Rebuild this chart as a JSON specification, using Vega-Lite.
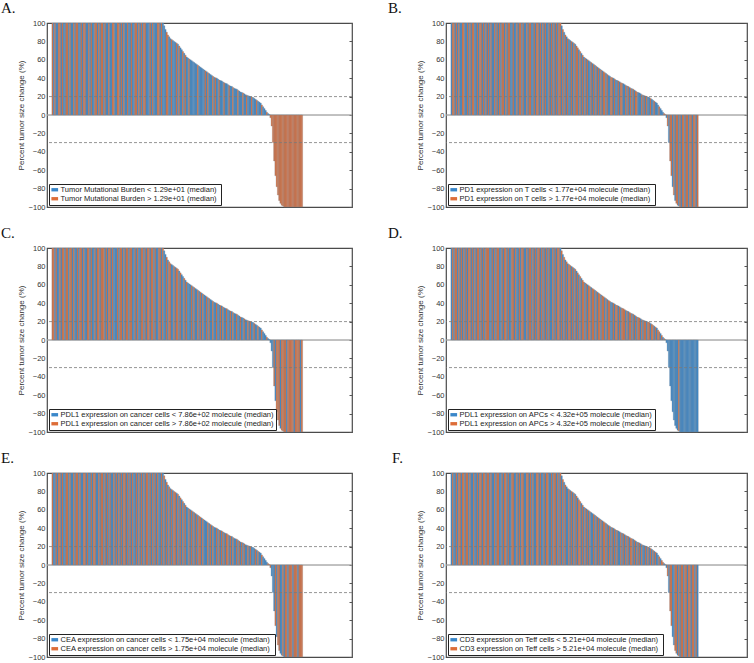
{
"$schema": "https://vega.github.io/schema/vega-lite/v6.json",
"padding": {"left": 0, "top": 0, "right": 2, "bottom": 0},
"config": {
 "font": "Liberation Sans",
 "view": {"stroke": "#4a4a4a", "strokeWidth": 1.2},
 "title": {"font": "Liberation Serif", "fontSize": 15, "fontWeight": "normal", "anchor": "start", "frame": "group", "offset": 3, "color": "#111"},
 "legend": {"orient": "bottom-left", "offset": 2, "padding": 2, "strokeColor": "#222", "fillColor": "white", "title": null, "symbolType": "M-1,-0.5H1V0.5H-1Z", "symbolSize": 45, "symbolStrokeWidth": 0, "labelFontSize": 7.5, "labelFont": "Liberation Sans", "labelColor": "#222", "labelLimit": 400, "rowPadding": 0, "labelOffset": 2, "symbolOpacity": 1}
},
"datasets": {
 "bars": [
{"i":1,"v":100,"A":1,"B":0,"C":1,"D":0,"E":1,"F":0},
{"i":2,"v":100,"A":0,"B":1,"C":1,"D":1,"E":0,"F":1},
{"i":3,"v":100,"A":1,"B":1,"C":0,"D":0,"E":0,"F":0},
{"i":4,"v":100,"A":0,"B":0,"C":1,"D":1,"E":1,"F":0},
{"i":5,"v":100,"A":0,"B":1,"C":0,"D":1,"E":0,"F":1},
{"i":6,"v":100,"A":1,"B":0,"C":0,"D":0,"E":1,"F":0},
{"i":7,"v":100,"A":1,"B":1,"C":1,"D":1,"E":1,"F":1},
{"i":8,"v":100,"A":0,"B":0,"C":0,"D":0,"E":0,"F":1},
{"i":9,"v":100,"A":1,"B":0,"C":1,"D":1,"E":1,"F":0},
{"i":10,"v":100,"A":0,"B":1,"C":1,"D":0,"E":0,"F":1},
{"i":11,"v":100,"A":0,"B":1,"C":0,"D":1,"E":0,"F":1},
{"i":12,"v":100,"A":1,"B":0,"C":1,"D":0,"E":1,"F":0},
{"i":13,"v":100,"A":1,"B":0,"C":1,"D":1,"E":1,"F":1},
{"i":14,"v":100,"A":0,"B":1,"C":0,"D":0,"E":0,"F":1},
{"i":15,"v":100,"A":1,"B":0,"C":1,"D":1,"E":1,"F":0},
{"i":16,"v":100,"A":0,"B":1,"C":1,"D":1,"E":0,"F":1},
{"i":17,"v":100,"A":0,"B":0,"C":0,"D":0,"E":0,"F":0},
{"i":18,"v":100,"A":1,"B":1,"C":1,"D":1,"E":1,"F":0},
{"i":19,"v":100,"A":0,"B":1,"C":0,"D":0,"E":0,"F":1},
{"i":20,"v":100,"A":1,"B":0,"C":0,"D":1,"E":1,"F":0},
{"i":21,"v":100,"A":1,"B":0,"C":1,"D":0,"E":1,"F":0},
{"i":22,"v":100,"A":0,"B":1,"C":0,"D":1,"E":0,"F":1},
{"i":23,"v":100,"A":0,"B":0,"C":1,"D":1,"E":1,"F":0},
{"i":24,"v":100,"A":1,"B":1,"C":1,"D":0,"E":0,"F":1},
{"i":25,"v":100,"A":0,"B":1,"C":0,"D":1,"E":0,"F":1},
{"i":26,"v":100,"A":1,"B":0,"C":1,"D":0,"E":1,"F":0},
{"i":27,"v":100,"A":1,"B":1,"C":0,"D":1,"E":1,"F":1},
{"i":28,"v":100,"A":0,"B":0,"C":0,"D":0,"E":0,"F":1},
{"i":29,"v":100,"A":0,"B":1,"C":1,"D":1,"E":1,"F":0},
{"i":30,"v":100,"A":1,"B":0,"C":1,"D":1,"E":0,"F":1},
{"i":31,"v":100,"A":0,"B":1,"C":0,"D":1,"E":0,"F":1},
{"i":32,"v":100,"A":1,"B":0,"C":1,"D":0,"E":1,"F":0},
{"i":33,"v":100,"A":0,"B":1,"C":0,"D":0,"E":0,"F":1},
{"i":34,"v":100,"A":0,"B":0,"C":0,"D":1,"E":1,"F":0},
{"i":35,"v":100,"A":1,"B":0,"C":1,"D":0,"E":1,"F":0},
{"i":36,"v":100,"A":1,"B":1,"C":0,"D":1,"E":0,"F":1},
{"i":37,"v":100,"A":0,"B":0,"C":1,"D":0,"E":0,"F":0},
{"i":38,"v":100,"A":1,"B":1,"C":1,"D":1,"E":1,"F":1},
{"i":39,"v":100,"A":0,"B":0,"C":0,"D":1,"E":0,"F":1},
{"i":40,"v":100,"A":1,"B":1,"C":1,"D":0,"E":1,"F":0},
{"i":41,"v":100,"A":1,"B":0,"C":1,"D":0,"E":1,"F":0},
{"i":42,"v":100,"A":0,"B":1,"C":1,"D":1,"E":0,"F":1},
{"i":43,"v":100,"A":1,"B":1,"C":0,"D":0,"E":1,"F":0},
{"i":44,"v":100,"A":0,"B":0,"C":1,"D":1,"E":0,"F":1},
{"i":45,"v":100,"A":0,"B":1,"C":0,"D":1,"E":1,"F":1},
{"i":46,"v":100,"A":1,"B":0,"C":1,"D":0,"E":0,"F":0},
{"i":47,"v":100,"A":0,"B":1,"C":1,"D":1,"E":1,"F":1},
{"i":48,"v":100,"A":0,"B":1,"C":0,"D":0,"E":0,"F":0},
{"i":49,"v":100,"A":1,"B":0,"C":1,"D":0,"E":0,"F":0},
{"i":50,"v":100,"A":1,"B":0,"C":0,"D":1,"E":1,"F":1},
{"i":51,"v":100,"A":0,"B":1,"C":0,"D":1,"E":0,"F":1},
{"i":52,"v":100,"A":0,"B":0,"C":0,"D":0,"E":1,"F":0},
{"i":53,"v":100,"A":1,"B":0,"C":1,"D":1,"E":0,"F":0},
{"i":54,"v":100,"A":1,"B":1,"C":0,"D":0,"E":1,"F":1},
{"i":55,"v":100,"A":0,"B":0,"C":1,"D":0,"E":0,"F":0},
{"i":56,"v":100,"A":1,"B":1,"C":1,"D":1,"E":1,"F":1},
{"i":57,"v":100,"A":0,"B":1,"C":0,"D":0,"E":0,"F":0},
{"i":58,"v":100,"A":1,"B":0,"C":1,"D":1,"E":1,"F":1},
{"i":59,"v":100,"A":0,"B":1,"C":0,"D":1,"E":1,"F":1},
{"i":60,"v":100,"A":0,"B":0,"C":1,"D":0,"E":0,"F":0},
{"i":61,"v":100,"A":1,"B":0,"C":1,"D":0,"E":1,"F":0},
{"i":62,"v":100,"A":0,"B":1,"C":0,"D":1,"E":0,"F":1},
{"i":63,"v":100,"A":0,"B":0,"C":1,"D":0,"E":1,"F":1},
{"i":64,"v":100,"A":1,"B":1,"C":1,"D":1,"E":0,"F":0},
{"i":65,"v":100,"A":0,"B":1,"C":0,"D":1,"E":1,"F":1},
{"i":66,"v":100,"A":0,"B":0,"C":0,"D":0,"E":0,"F":0},
{"i":67,"v":100,"A":1,"B":0,"C":1,"D":1,"E":0,"F":1},
{"i":68,"v":100,"A":1,"B":1,"C":0,"D":0,"E":1,"F":0},
{"i":69,"v":100,"A":0,"B":0,"C":1,"D":1,"E":0,"F":0},
{"i":70,"v":100,"A":1,"B":1,"C":0,"D":0,"E":1,"F":1},
{"i":71,"v":100,"A":0,"B":1,"C":0,"D":1,"E":0,"F":1},
{"i":72,"v":100,"A":1,"B":0,"C":1,"D":1,"E":1,"F":0},
{"i":73,"v":100,"A":0,"B":1,"C":1,"D":0,"E":0,"F":1},
{"i":74,"v":100,"A":1,"B":0,"C":0,"D":1,"E":1,"F":0},
{"i":75,"v":100,"A":1,"B":1,"C":1,"D":0,"E":0,"F":0},
{"i":76,"v":100,"A":0,"B":0,"C":0,"D":1,"E":1,"F":1},
{"i":77,"v":100,"A":0,"B":1,"C":1,"D":0,"E":1,"F":0},
{"i":78,"v":100,"A":0,"B":0,"C":1,"D":1,"E":0,"F":1},
{"i":79,"v":100,"A":1,"B":0,"C":0,"D":0,"E":1,"F":1},
{"i":80,"v":100,"A":0,"B":1,"C":1,"D":1,"E":0,"F":0},
{"i":81,"v":100,"A":1,"B":0,"C":1,"D":0,"E":1,"F":0},
{"i":82,"v":100,"A":0,"B":1,"C":0,"D":0,"E":0,"F":1},
{"i":83,"v":100,"A":0,"B":0,"C":1,"D":1,"E":1,"F":0},
{"i":84,"v":100,"A":0,"B":1,"C":0,"D":0,"E":0,"F":1},
{"i":85,"v":100,"A":1,"B":0,"C":0,"D":1,"E":1,"F":1},
{"i":86,"v":100,"A":1,"B":1,"C":1,"D":0,"E":0,"F":0},
{"i":87,"v":100,"A":0,"B":0,"C":1,"D":1,"E":0,"F":1},
{"i":88,"v":100,"A":1,"B":1,"C":0,"D":1,"E":1,"F":0},
{"i":89,"v":100,"A":0,"B":1,"C":1,"D":0,"E":0,"F":1},
{"i":90,"v":97,"A":0,"B":0,"C":0,"D":1,"E":1,"F":0},
{"i":91,"v":93,"A":0,"B":1,"C":0,"D":0,"E":0,"F":1},
{"i":92,"v":90,"A":1,"B":0,"C":1,"D":1,"E":1,"F":0},
{"i":93,"v":87,"A":1,"B":1,"C":0,"D":0,"E":0,"F":1},
{"i":94,"v":85,"A":0,"B":0,"C":1,"D":1,"E":1,"F":0},
{"i":95,"v":83,"A":0,"B":1,"C":1,"D":0,"E":0,"F":0},
{"i":96,"v":82,"A":1,"B":0,"C":0,"D":1,"E":1,"F":1},
{"i":97,"v":81,"A":0,"B":0,"C":0,"D":1,"E":0,"F":0},
{"i":98,"v":80,"A":0,"B":1,"C":1,"D":0,"E":1,"F":1},
{"i":99,"v":79,"A":0,"B":0,"C":0,"D":1,"E":1,"F":0},
{"i":100,"v":78,"A":1,"B":1,"C":1,"D":0,"E":0,"F":1},
{"i":101,"v":77,"A":0,"B":0,"C":1,"D":1,"E":1,"F":0},
{"i":102,"v":75,"A":1,"B":1,"C":0,"D":0,"E":0,"F":1},
{"i":103,"v":73,"A":0,"B":1,"C":1,"D":1,"E":1,"F":0},
{"i":104,"v":71,"A":0,"B":0,"C":0,"D":0,"E":0,"F":1},
{"i":105,"v":69,"A":1,"B":1,"C":0,"D":1,"E":1,"F":1},
{"i":106,"v":67,"A":0,"B":0,"C":1,"D":0,"E":0,"F":0},
{"i":107,"v":65,"A":1,"B":1,"C":0,"D":1,"E":1,"F":1},
{"i":108,"v":63,"A":0,"B":0,"C":1,"D":1,"E":0,"F":0},
{"i":109,"v":62,"A":0,"B":1,"C":0,"D":0,"E":0,"F":1},
{"i":110,"v":61,"A":1,"B":0,"C":0,"D":1,"E":1,"F":0},
{"i":111,"v":60,"A":0,"B":1,"C":0,"D":0,"E":0,"F":1},
{"i":112,"v":59,"A":0,"B":0,"C":1,"D":1,"E":1,"F":0},
{"i":113,"v":58,"A":0,"B":0,"C":0,"D":1,"E":0,"F":1},
{"i":114,"v":57,"A":0,"B":1,"C":1,"D":0,"E":1,"F":0},
{"i":115,"v":56,"A":0,"B":0,"C":0,"D":1,"E":0,"F":0},
{"i":116,"v":55,"A":0,"B":1,"C":0,"D":1,"E":1,"F":1},
{"i":117,"v":54,"A":1,"B":0,"C":1,"D":0,"E":0,"F":0},
{"i":118,"v":53,"A":0,"B":1,"C":0,"D":1,"E":1,"F":1},
{"i":119,"v":52,"A":0,"B":0,"C":1,"D":0,"E":1,"F":0},
{"i":120,"v":51,"A":0,"B":1,"C":0,"D":1,"E":0,"F":1},
{"i":121,"v":50,"A":0,"B":0,"C":1,"D":1,"E":1,"F":0},
{"i":122,"v":49,"A":0,"B":1,"C":0,"D":0,"E":0,"F":1},
{"i":123,"v":48,"A":1,"B":0,"C":0,"D":1,"E":0,"F":0},
{"i":124,"v":47,"A":0,"B":1,"C":1,"D":1,"E":0,"F":1},
{"i":125,"v":46,"A":1,"B":1,"C":0,"D":0,"E":1,"F":1},
{"i":126,"v":45,"A":0,"B":0,"C":1,"D":1,"E":0,"F":0},
{"i":127,"v":44,"A":0,"B":1,"C":0,"D":0,"E":1,"F":1},
{"i":128,"v":43,"A":0,"B":0,"C":0,"D":1,"E":0,"F":0},
{"i":129,"v":42,"A":1,"B":0,"C":1,"D":1,"E":1,"F":1},
{"i":130,"v":41,"A":0,"B":1,"C":0,"D":0,"E":0,"F":0},
{"i":131,"v":40.5,"A":1,"B":1,"C":0,"D":0,"E":0,"F":1},
{"i":132,"v":40,"A":0,"B":0,"C":1,"D":1,"E":1,"F":0},
{"i":133,"v":39,"A":0,"B":1,"C":0,"D":0,"E":0,"F":1},
{"i":134,"v":38,"A":1,"B":0,"C":0,"D":1,"E":1,"F":0},
{"i":135,"v":37.5,"A":0,"B":0,"C":1,"D":1,"E":0,"F":1},
{"i":136,"v":37,"A":0,"B":1,"C":0,"D":0,"E":1,"F":0},
{"i":137,"v":36,"A":0,"B":0,"C":1,"D":1,"E":0,"F":0},
{"i":138,"v":35,"A":1,"B":1,"C":0,"D":0,"E":1,"F":1},
{"i":139,"v":34.5,"A":0,"B":1,"C":0,"D":1,"E":0,"F":0},
{"i":140,"v":34,"A":0,"B":0,"C":1,"D":1,"E":1,"F":1},
{"i":141,"v":33,"A":0,"B":0,"C":0,"D":1,"E":1,"F":0},
{"i":142,"v":32,"A":1,"B":1,"C":0,"D":0,"E":0,"F":1},
{"i":143,"v":31.5,"A":0,"B":0,"C":1,"D":1,"E":1,"F":0},
{"i":144,"v":31,"A":0,"B":1,"C":0,"D":0,"E":0,"F":1},
{"i":145,"v":30,"A":1,"B":0,"C":1,"D":1,"E":1,"F":0},
{"i":146,"v":29,"A":0,"B":1,"C":0,"D":1,"E":0,"F":1},
{"i":147,"v":28.5,"A":0,"B":0,"C":0,"D":0,"E":0,"F":1},
{"i":148,"v":28,"A":0,"B":1,"C":1,"D":1,"E":1,"F":0},
{"i":149,"v":27,"A":1,"B":0,"C":0,"D":0,"E":0,"F":1},
{"i":150,"v":26,"A":0,"B":1,"C":0,"D":1,"E":1,"F":0},
{"i":151,"v":25,"A":0,"B":1,"C":1,"D":0,"E":0,"F":1},
{"i":152,"v":24.5,"A":0,"B":0,"C":0,"D":1,"E":1,"F":0},
{"i":153,"v":24,"A":1,"B":0,"C":0,"D":1,"E":0,"F":1},
{"i":154,"v":23,"A":0,"B":0,"C":1,"D":0,"E":1,"F":0},
{"i":155,"v":22,"A":0,"B":1,"C":0,"D":1,"E":0,"F":1},
{"i":156,"v":21.5,"A":1,"B":0,"C":0,"D":0,"E":0,"F":0},
{"i":157,"v":21,"A":0,"B":1,"C":1,"D":1,"E":1,"F":0},
{"i":158,"v":20.5,"A":0,"B":0,"C":0,"D":1,"E":0,"F":1},
{"i":159,"v":20,"A":0,"B":1,"C":1,"D":0,"E":1,"F":0},
{"i":160,"v":19.5,"A":1,"B":0,"C":0,"D":1,"E":0,"F":1},
{"i":161,"v":19,"A":0,"B":0,"C":0,"D":1,"E":0,"F":0},
{"i":162,"v":18,"A":0,"B":1,"C":1,"D":0,"E":0,"F":1},
{"i":163,"v":17,"A":0,"B":0,"C":0,"D":1,"E":1,"F":0},
{"i":164,"v":16,"A":1,"B":0,"C":0,"D":1,"E":0,"F":1},
{"i":165,"v":15,"A":0,"B":1,"C":1,"D":0,"E":1,"F":0},
{"i":166,"v":14,"A":0,"B":0,"C":0,"D":1,"E":0,"F":1},
{"i":167,"v":13,"A":0,"B":0,"C":0,"D":0,"E":0,"F":0},
{"i":168,"v":11,"A":1,"B":0,"C":1,"D":1,"E":1,"F":0},
{"i":169,"v":9,"A":0,"B":1,"C":0,"D":1,"E":0,"F":1},
{"i":170,"v":7,"A":0,"B":0,"C":0,"D":0,"E":0,"F":0},
{"i":171,"v":5,"A":0,"B":0,"C":0,"D":1,"E":0,"F":1},
{"i":172,"v":3,"A":1,"B":0,"C":1,"D":0,"E":0,"F":1},
{"i":173,"v":1.5,"A":0,"B":1,"C":0,"D":1,"E":1,"F":0},
{"i":174,"v":0.5,"A":0,"B":1,"C":0,"D":0,"E":1,"F":1},
{"i":175,"v":-3,"A":1,"B":0,"C":0,"D":0,"E":1,"F":0},
{"i":176,"v":-12,"A":1,"B":1,"C":0,"D":0,"E":0,"F":1},
{"i":177,"v":-30,"A":1,"B":0,"C":0,"D":0,"E":0,"F":0},
{"i":178,"v":-50,"A":1,"B":1,"C":1,"D":0,"E":0,"F":1},
{"i":179,"v":-66,"A":1,"B":1,"C":0,"D":0,"E":1,"F":1},
{"i":180,"v":-78,"A":1,"B":0,"C":1,"D":0,"E":0,"F":0},
{"i":181,"v":-87,"A":1,"B":1,"C":1,"D":0,"E":1,"F":0},
{"i":182,"v":-93,"A":1,"B":0,"C":1,"D":0,"E":1,"F":1},
{"i":183,"v":-96,"A":1,"B":1,"C":0,"D":0,"E":0,"F":1},
{"i":184,"v":-98,"A":1,"B":1,"C":1,"D":0,"E":0,"F":0},
{"i":185,"v":-99,"A":1,"B":0,"C":1,"D":1,"E":1,"F":1},
{"i":186,"v":-100,"A":1,"B":1,"C":1,"D":0,"E":0,"F":0},
{"i":187,"v":-100,"A":1,"B":0,"C":1,"D":0,"E":1,"F":1},
{"i":188,"v":-100,"A":1,"B":1,"C":0,"D":0,"E":1,"F":1},
{"i":189,"v":-100,"A":1,"B":1,"C":1,"D":0,"E":0,"F":0},
{"i":190,"v":-100,"A":1,"B":0,"C":1,"D":0,"E":1,"F":1},
{"i":191,"v":-100,"A":1,"B":1,"C":1,"D":0,"E":1,"F":1},
{"i":192,"v":-100,"A":1,"B":1,"C":1,"D":0,"E":1,"F":0},
{"i":193,"v":-100,"A":1,"B":0,"C":1,"D":0,"E":0,"F":1},
{"i":194,"v":-100,"A":1,"B":1,"C":0,"D":0,"E":1,"F":1},
{"i":195,"v":-100,"A":1,"B":1,"C":1,"D":0,"E":1,"F":0},
{"i":196,"v":-100,"A":1,"B":0,"C":1,"D":0,"E":1,"F":1},
{"i":197,"v":-100,"A":1,"B":1,"C":1,"D":0,"E":0,"F":1},
{"i":198,"v":-100,"A":1,"B":1,"C":1,"D":0,"E":1,"F":0},
{"i":199,"v":-100,"A":1,"B":0,"C":0,"D":0,"E":1,"F":1},
{"i":200,"v":-100,"A":1,"B":1,"C":1,"D":0,"E":1,"F":0}
 ],
 "refs": [{"r": 20}, {"r": -30}]
},
"columns": 2,
"spacing": {"row": 13, "column": 33},
"resolve": {"scale": {"color": "independent"}},
"concat": [
 {"width": 305, "height": 184, "title": {"text": "A.", "dx": -46},
  "layer": [
   {"data": {"name": "refs"}, "mark": {"type": "rule", "color": "#a0a0a0", "strokeWidth": 0.8}, "encoding": {"y": {"datum": 0, "type": "quantitative", "axis": null}}},
   {"data": {"name": "bars"}, "mark": {"type": "bar", "orient": "vertical", "width": 1.5, "stroke": "#7f8b97", "strokeWidth": 0.4, "strokeOpacity": 0.8},
    "encoding": {
     "x": {"field": "i", "type": "quantitative", "scale": {"domain": [0.5, 236]}, "axis": null},
     "y": {"field": "v", "type": "quantitative", "scale": {"domain": [-100, 100], "nice": false}, "axis": {"title": "Percent tumor size change (%)", "values": [-100,-80,-60,-40,-20,0,20,40,60,80,100], "ticks": false, "domain": false, "grid": false, "labelFontSize": 7.5, "labelColor": "#333", "labelPadding": 2, "titleFontSize": 8, "titleFontWeight": "normal", "titleColor": "#333", "titlePadding": 3}},
     "color": {"field": "A", "type": "nominal", "scale": {"domain": [0, 1], "range": ["#3a87c9", "#dd6d38"]}, "legend": {"labelExpr": "datum.value == 0 ? 'Tumor Mutational Burden < 1.29e+01  (median)' : 'Tumor Mutational Burden > 1.29e+01  (median)'"}}
    }},
   {"data": {"name": "refs"}, "mark": {"type": "rule", "strokeDash": [3, 2], "color": "#7a7a7a", "strokeWidth": 0.8},
    "encoding": {"y": {"field": "r", "type": "quantitative", "axis": {"orient": "right", "title": null, "labels": false, "values": [-100,-80,-60,-40,-20,0,20,40,60,80,100], "tickSize": -3, "tickColor": "#555", "domain": false, "grid": false}}}}
  ],
  "resolve": {"axis": {"y": "independent"}}
 },
 {"width": 301, "height": 184, "title": {"text": "B.", "dx": -58},
  "layer": [
   {"data": {"name": "refs"}, "mark": {"type": "rule", "color": "#a0a0a0", "strokeWidth": 0.8}, "encoding": {"y": {"datum": 0, "type": "quantitative", "axis": null}}},
   {"data": {"name": "bars"}, "mark": {"type": "bar", "orient": "vertical", "width": 1.5, "stroke": "#7f8b97", "strokeWidth": 0.4, "strokeOpacity": 0.8},
    "encoding": {
     "x": {"field": "i", "type": "quantitative", "scale": {"domain": [0.5, 236]}, "axis": null},
     "y": {"field": "v", "type": "quantitative", "scale": {"domain": [-100, 100], "nice": false}, "axis": {"title": "Percent tumor size change (%)", "values": [-100,-80,-60,-40,-20,0,20,40,60,80,100], "ticks": false, "domain": false, "grid": false, "labelFontSize": 7.5, "labelColor": "#333", "labelPadding": 2, "titleFontSize": 8, "titleFontWeight": "normal", "titleColor": "#333", "titlePadding": 3}},
     "color": {"field": "B", "type": "nominal", "scale": {"domain": [0, 1], "range": ["#3a87c9", "#dd6d38"]}, "legend": {"labelExpr": "datum.value == 0 ? 'PD1 expression on T cells  < 1.77e+04 molecule (median)' : 'PD1 expression on T cells  > 1.77e+04 molecule (median)'"}}
    }},
   {"data": {"name": "refs"}, "mark": {"type": "rule", "strokeDash": [3, 2], "color": "#7a7a7a", "strokeWidth": 0.8},
    "encoding": {"y": {"field": "r", "type": "quantitative", "axis": {"orient": "right", "title": null, "labels": false, "values": [-100,-80,-60,-40,-20,0,20,40,60,80,100], "tickSize": -3, "tickColor": "#555", "domain": false, "grid": false}}}}
  ],
  "resolve": {"axis": {"y": "independent"}}
 },
 {"width": 305, "height": 184, "title": {"text": "C.", "dx": -46},
  "layer": [
   {"data": {"name": "refs"}, "mark": {"type": "rule", "color": "#a0a0a0", "strokeWidth": 0.8}, "encoding": {"y": {"datum": 0, "type": "quantitative", "axis": null}}},
   {"data": {"name": "bars"}, "mark": {"type": "bar", "orient": "vertical", "width": 1.5, "stroke": "#7f8b97", "strokeWidth": 0.4, "strokeOpacity": 0.8},
    "encoding": {
     "x": {"field": "i", "type": "quantitative", "scale": {"domain": [0.5, 236]}, "axis": null},
     "y": {"field": "v", "type": "quantitative", "scale": {"domain": [-100, 100], "nice": false}, "axis": {"title": "Percent tumor size change (%)", "values": [-100,-80,-60,-40,-20,0,20,40,60,80,100], "ticks": false, "domain": false, "grid": false, "labelFontSize": 7.5, "labelColor": "#333", "labelPadding": 2, "titleFontSize": 8, "titleFontWeight": "normal", "titleColor": "#333", "titlePadding": 3}},
     "color": {"field": "C", "type": "nominal", "scale": {"domain": [0, 1], "range": ["#3a87c9", "#dd6d38"]}, "legend": {"labelExpr": "datum.value == 0 ? 'PDL1 expression on cancer cells < 7.86e+02 molecule (median)' : 'PDL1 expression on cancer cells > 7.86e+02 molecule (median)'"}}
    }},
   {"data": {"name": "refs"}, "mark": {"type": "rule", "strokeDash": [3, 2], "color": "#7a7a7a", "strokeWidth": 0.8},
    "encoding": {"y": {"field": "r", "type": "quantitative", "axis": {"orient": "right", "title": null, "labels": false, "values": [-100,-80,-60,-40,-20,0,20,40,60,80,100], "tickSize": -3, "tickColor": "#555", "domain": false, "grid": false}}}}
  ],
  "resolve": {"axis": {"y": "independent"}}
 },
 {"width": 301, "height": 184, "title": {"text": "D.", "dx": -58},
  "layer": [
   {"data": {"name": "refs"}, "mark": {"type": "rule", "color": "#a0a0a0", "strokeWidth": 0.8}, "encoding": {"y": {"datum": 0, "type": "quantitative", "axis": null}}},
   {"data": {"name": "bars"}, "mark": {"type": "bar", "orient": "vertical", "width": 1.5, "stroke": "#7f8b97", "strokeWidth": 0.4, "strokeOpacity": 0.8},
    "encoding": {
     "x": {"field": "i", "type": "quantitative", "scale": {"domain": [0.5, 236]}, "axis": null},
     "y": {"field": "v", "type": "quantitative", "scale": {"domain": [-100, 100], "nice": false}, "axis": {"title": "Percent tumor size change (%)", "values": [-100,-80,-60,-40,-20,0,20,40,60,80,100], "ticks": false, "domain": false, "grid": false, "labelFontSize": 7.5, "labelColor": "#333", "labelPadding": 2, "titleFontSize": 8, "titleFontWeight": "normal", "titleColor": "#333", "titlePadding": 3}},
     "color": {"field": "D", "type": "nominal", "scale": {"domain": [0, 1], "range": ["#3a87c9", "#dd6d38"]}, "legend": {"labelExpr": "datum.value == 0 ? 'PDL1 expression on APCs < 4.32e+05 molecule (median)' : 'PDL1 expression on APCs > 4.32e+05 molecule (median)'"}}
    }},
   {"data": {"name": "refs"}, "mark": {"type": "rule", "strokeDash": [3, 2], "color": "#7a7a7a", "strokeWidth": 0.8},
    "encoding": {"y": {"field": "r", "type": "quantitative", "axis": {"orient": "right", "title": null, "labels": false, "values": [-100,-80,-60,-40,-20,0,20,40,60,80,100], "tickSize": -3, "tickColor": "#555", "domain": false, "grid": false}}}}
  ],
  "resolve": {"axis": {"y": "independent"}}
 },
 {"width": 305, "height": 184, "title": {"text": "E.", "dx": -46},
  "layer": [
   {"data": {"name": "refs"}, "mark": {"type": "rule", "color": "#a0a0a0", "strokeWidth": 0.8}, "encoding": {"y": {"datum": 0, "type": "quantitative", "axis": null}}},
   {"data": {"name": "bars"}, "mark": {"type": "bar", "orient": "vertical", "width": 1.5, "stroke": "#7f8b97", "strokeWidth": 0.4, "strokeOpacity": 0.8},
    "encoding": {
     "x": {"field": "i", "type": "quantitative", "scale": {"domain": [0.5, 236]}, "axis": null},
     "y": {"field": "v", "type": "quantitative", "scale": {"domain": [-100, 100], "nice": false}, "axis": {"title": "Percent tumor size change (%)", "values": [-100,-80,-60,-40,-20,0,20,40,60,80,100], "ticks": false, "domain": false, "grid": false, "labelFontSize": 7.5, "labelColor": "#333", "labelPadding": 2, "titleFontSize": 8, "titleFontWeight": "normal", "titleColor": "#333", "titlePadding": 3}},
     "color": {"field": "E", "type": "nominal", "scale": {"domain": [0, 1], "range": ["#3a87c9", "#dd6d38"]}, "legend": {"labelExpr": "datum.value == 0 ? 'CEA expression on cancer cells  < 1.75e+04 molecule (median)' : 'CEA expression on cancer cells  > 1.75e+04 molecule (median)'"}}
    }},
   {"data": {"name": "refs"}, "mark": {"type": "rule", "strokeDash": [3, 2], "color": "#7a7a7a", "strokeWidth": 0.8},
    "encoding": {"y": {"field": "r", "type": "quantitative", "axis": {"orient": "right", "title": null, "labels": false, "values": [-100,-80,-60,-40,-20,0,20,40,60,80,100], "tickSize": -3, "tickColor": "#555", "domain": false, "grid": false}}}}
  ],
  "resolve": {"axis": {"y": "independent"}}
 },
 {"width": 301, "height": 184, "title": {"text": "F.", "dx": -54},
  "layer": [
   {"data": {"name": "refs"}, "mark": {"type": "rule", "color": "#a0a0a0", "strokeWidth": 0.8}, "encoding": {"y": {"datum": 0, "type": "quantitative", "axis": null}}},
   {"data": {"name": "bars"}, "mark": {"type": "bar", "orient": "vertical", "width": 1.5, "stroke": "#7f8b97", "strokeWidth": 0.4, "strokeOpacity": 0.8},
    "encoding": {
     "x": {"field": "i", "type": "quantitative", "scale": {"domain": [0.5, 236]}, "axis": null},
     "y": {"field": "v", "type": "quantitative", "scale": {"domain": [-100, 100], "nice": false}, "axis": {"title": "Percent tumor size change (%)", "values": [-100,-80,-60,-40,-20,0,20,40,60,80,100], "ticks": false, "domain": false, "grid": false, "labelFontSize": 7.5, "labelColor": "#333", "labelPadding": 2, "titleFontSize": 8, "titleFontWeight": "normal", "titleColor": "#333", "titlePadding": 3}},
     "color": {"field": "F", "type": "nominal", "scale": {"domain": [0, 1], "range": ["#3a87c9", "#dd6d38"]}, "legend": {"labelExpr": "datum.value == 0 ? 'CD3 expression on Teff cells  < 5.21e+04 molecule (median)' : 'CD3 expression on Teff cells  > 5.21e+04 molecule (median)'"}}
    }},
   {"data": {"name": "refs"}, "mark": {"type": "rule", "strokeDash": [3, 2], "color": "#7a7a7a", "strokeWidth": 0.8},
    "encoding": {"y": {"field": "r", "type": "quantitative", "axis": {"orient": "right", "title": null, "labels": false, "values": [-100,-80,-60,-40,-20,0,20,40,60,80,100], "tickSize": -3, "tickColor": "#555", "domain": false, "grid": false}}}}
  ],
  "resolve": {"axis": {"y": "independent"}}
 }
]
}
